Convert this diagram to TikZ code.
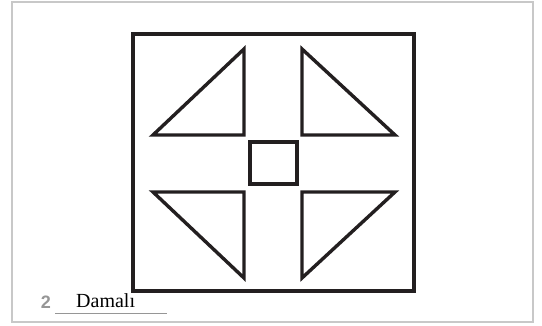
\documentclass[tikz,border=0pt]{standalone}
\usepackage{fontspec}
\setmainfont{Liberation Serif}
\newfontfamily\numfont{Liberation Sans}
\usetikzlibrary{positioning}
\definecolor{inkdark}{RGB}{35,31,32}
\definecolor{framegray}{RGB}{200,200,200}
\definecolor{numgray}{RGB}{150,150,150}
\tikzset{
  pframe/.style={draw=framegray, line width=1.5pt},
  outbox/.style={draw=inkdark, line width=3.8pt},
  tri/.style={draw=inkdark, line width=3.4pt, line join=miter},
  midbox/.style={draw=inkdark, line width=3.2pt},
  numlab/.style={font=\numfont\bfseries\fontsize{18}{20}\selectfont, text=numgray, inner sep=0pt},
  namelab/.style={font=\fontsize{20}{24}\selectfont, inner sep=0pt},
  uline/.style={draw=numgray, line width=1pt},
}

\begin{document}
\begin{tikzpicture}[x=1pt, y=-1pt]
        \useasboundingbox (0,0) rectangle (542,325);
        \draw[pframe] (12,2) rectangle (533,322);
        % outer square
        \draw[outbox] (133,34) rectangle (414,291);
        % four triangles
        \draw[tri] (153,135) -- (244,49) -- (244,135) -- cycle;
        \draw[tri] (302,49) -- (395,135) -- (302,135) -- cycle;
        \draw[tri] (153,192) -- (244,192) -- (244,278) -- cycle;
        \draw[tri] (302,192) -- (395,192) -- (302,278) -- cycle;
        % small square in the middle
        \draw[midbox] (250,142) rectangle (297,184);
        % label
        \node[numlab] (num) at (46,302) {2};
        \node[namelab, anchor=base west] (name) at (76,307) {Damalı};
        \coordinate (ulstart) at (55,313);
        \coordinate (ulend) at (167,313);
        \draw[uline] (ulstart) -- (ulend);
      \end{tikzpicture}
\end{document}
